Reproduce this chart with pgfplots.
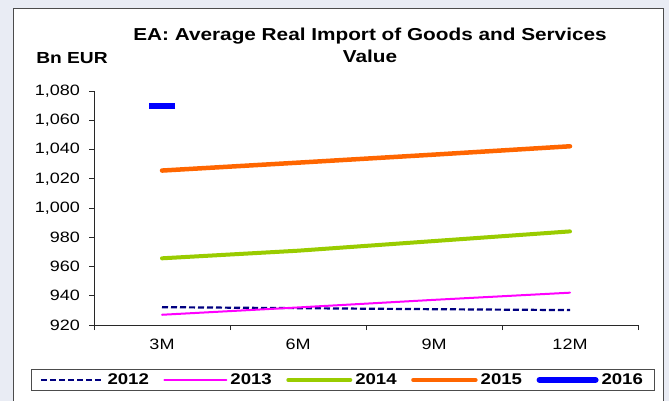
\documentclass[border=0pt]{standalone}
\usepackage{pgfplots}
\pgfplotsset{compat=1.18}
\usepackage{fontspec}
\setmainfont{Liberation Sans}[FakeStretch=1.2]
\definecolor{c2012}{RGB}{0,0,128}
\definecolor{c2013}{RGB}{255,0,255}
\definecolor{c2014}{RGB}{153,204,0}
\definecolor{c2015}{RGB}{255,102,0}
\definecolor{c2016}{RGB}{0,0,255}
\definecolor{bgcol}{RGB}{233,236,244}
\definecolor{axcol}{RGB}{40,40,40}
\begin{document}
\begin{tikzpicture}
\path[use as bounding box] (0,0) rectangle (669bp,401bp);
\fill[bgcol] (0,0) rectangle (669bp,401bp);
\filldraw[fill=white, draw=gray!60!black, line width=1bp] (13bp,-3bp) rectangle (663bp,392bp);
\node[font=\bfseries\fontsize{17.3bp}{20bp}\selectfont, anchor=center] at (370bp,365bp) {EA:\ Average Real Import of Goods and Services};
\node[font=\bfseries\fontsize{17.3bp}{20bp}\selectfont, anchor=center] at (370bp,345bp) {Value};
\node[font=\bfseries\fontsize{16bp}{19bp}\selectfont, anchor=center] at (72bp,343bp) {Bn EUR};
\begin{axis}[
  at={(94bp,76bp)}, anchor=south west,
  scale only axis, width=544bp, height=234bp,
  xmin=0.5, xmax=4.5, ymin=920, ymax=1080,
  axis x line*=bottom, axis y line*=left,
  axis line style={axcol, line width=0.9bp},
  xtick={0.5,1.5,2.5,3.5,4.5}, xticklabels={},
  extra x ticks={1,2,3,4}, extra x tick labels={3M,6M,9M,12M},
  extra x tick style={major tick length=0pt},
  ytick={920,940,...,1080},
  tick align=outside, major tick length=5bp,
  tick style={axcol, line width=0.9bp},
  /pgf/number format/assume math mode=true,
  /pgf/number format/1000 sep={,},
  ticklabel style={font=\fontsize{15bp}{17bp}\selectfont},
  yticklabel style={inner sep=0pt, xshift=-9bp},
  xticklabel style={inner sep=0pt, yshift=-14bp},
  legend image code/.code={\draw[#1] (0bp,0bp) -- (62bp,0bp);},
  legend columns=5,
  legend style={at={(0.458,-0.235)}, anchor=center, draw=gray!60!black, line width=1bp,
    font=\bfseries\fontsize{15.5bp}{17bp}\selectfont,
    inner xsep=9bp, inner ysep=1.5bp,
    nodes={inner sep=3bp},
    /tikz/every even column/.append style={column sep=11.5bp}},
  clip=false,
]
\addplot[c2012, line width=2.2bp, dash pattern=on 6bp off 3bp] coordinates {(1,932.2) (2,931.5) (3,930.8) (4,930.2)};
\addlegendentry{2012}
\addplot[c2013, line width=2bp, line cap=round] coordinates {(1,927.0) (2,932.0) (3,937.2) (4,942.1)};
\addlegendentry{2013}
\addplot[c2014, line width=4bp, line cap=round] coordinates {(1,965.6) (2,970.8) (3,977.4) (4,984.0)};
\addlegendentry{2014}
\addplot[c2015, line width=4.5bp, line cap=round] coordinates {(1,1025.6) (2,1031.0) (3,1036.5) (4,1042.2)};
\addlegendentry{2015}
\addplot[only marks, mark=-, mark size=13bp, mark options={line width=6bp, c2016, solid},
  legend image code/.code={\draw[c2016, line width=6bp, line cap=round] (3bp,0bp) -- (59bp,0bp);}]
  coordinates {(1,1069.7)};
\addlegendentry{2016}
\end{axis}
\end{tikzpicture}
\end{document}
